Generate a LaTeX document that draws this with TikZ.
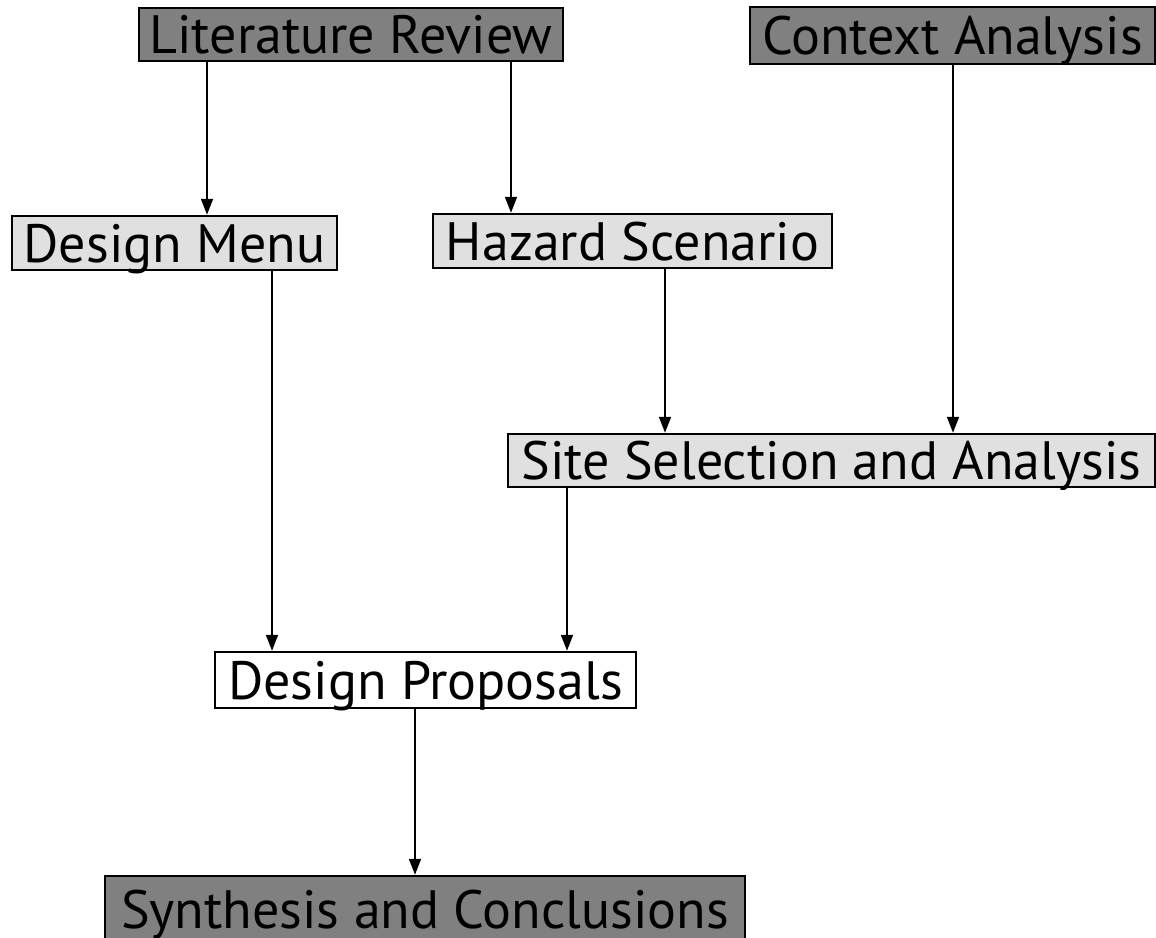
\documentclass[tikz,border=0pt]{standalone}
\usepackage{fontspec}
\setmainfont{PT Sans}
\usetikzlibrary{arrows.meta}
\definecolor{darkbox}{gray}{0.5}
\definecolor{lightbox}{gray}{0.88}
\tikzset{
  x=1pt, y=-1pt,
  box/.style={draw=black, line width=2.5pt, inner sep=0pt, anchor=center,
    text height=38pt, text depth=0pt,
    font=\fontsize{54}{58}\selectfont},
  darkstage/.style={box, fill=darkbox},
  lightstage/.style={box, fill=lightbox},
  whitestage/.style={box, fill=white},
  arr/.style={line width=1.8pt, -{Triangle[length=16pt,width=12pt]}}
}
\begin{document}
\begin{tikzpicture}
\useasboundingbox (0,0) rectangle (1156,937);
\node[darkstage, minimum width=424pt, minimum height=53pt] (lit) at (351,34.5) {Literature Review};
\node[darkstage, minimum width=405pt, minimum height=57pt] (ctx) at (952.5,35.5) {Context Analysis};
\node[lightstage, minimum width=325pt, minimum height=54pt] (menu) at (174.5,243) {Design Menu};
\node[lightstage, minimum width=399pt, minimum height=54pt] (haz) at (632.5,241) {Hazard Scenario};
\node[lightstage, minimum width=647pt, minimum height=53pt] (site) at (831.5,460.5) {Site Selection and Analysis};
\node[whitestage, minimum width=421pt, minimum height=56pt] (prop) at (425.5,680) {Design Proposals};
\node[darkstage, minimum width=640pt, minimum height=66pt] (syn) at (425,909) {Synthesis and Conclusions};
\draw[arr] (lit.south -| 207,0) -- (menu.north -| 207,0);
\draw[arr] (lit.south -| 511,0) -- (haz.north -| 511,0);
\draw[arr] (ctx.south -| 953,0) -- (site.north -| 953,0);
\draw[arr] (haz.south -| 665,0) -- (site.north -| 665,0);
\draw[arr] (menu.south -| 272,0) -- (prop.north -| 272,0);
\draw[arr] (site.south -| 567,0) -- (prop.north -| 567,0);
\draw[arr] (prop.south -| 415,0) -- (syn.north -| 415,0);
\end{tikzpicture}
\end{document}
